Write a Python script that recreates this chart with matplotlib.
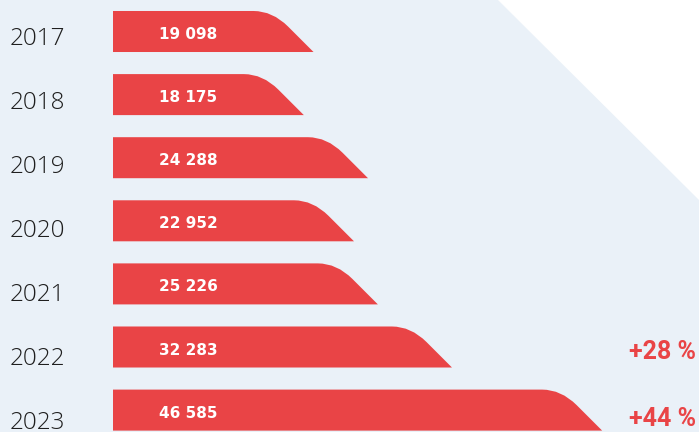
import matplotlib
matplotlib.use("Agg")
import matplotlib.pyplot as plt
from matplotlib.path import Path
from matplotlib.patches import PathPatch, Polygon

# ── data ─────────────────────────────────────────────────────────────────────
years = ["2017", "2018", "2019", "2020", "2021", "2022", "2023"]
values = [19098, 18175, 24288, 22952, 25226, 32283, 46585]
value_labels = ["19 098", "18 175", "24 288", "22 952", "25 226", "32 283", "46 585"]
growth_rows = [5, 6]
growth_labels = ["+28 %", "+44 %"]

BAR_COL = "#E94446"
BG_COL = "#EAF1F8"
YEAR_COL = "#1f1f1f"

W_PX, H_PX = 699, 432
LEFT_PX = 113          # where value 0 sits
PX_PER_UNIT = 0.0105   # horizontal scale
ROW_PX = 63.1          # distance between row centres
FIRST_ROW_PX = 31.5    # centre of first row from top
BAR_H = 0.65           # bar thickness in row units

fig = plt.figure(figsize=(W_PX / 100, H_PX / 100), dpi=100)
fig.patch.set_facecolor("white")

ax = fig.add_axes([0, 0, 1, 1])
ax.patch.set_alpha(0)
x0 = -LEFT_PX / PX_PER_UNIT
x1 = (W_PX - LEFT_PX) / PX_PER_UNIT
y_top = -FIRST_ROW_PX / ROW_PX
y_bot = (H_PX - FIRST_ROW_PX) / ROW_PX
ax.set_xlim(x0, x1)
ax.set_ylim(y_bot, y_top)
ax.axis("off")

# light blue backdrop with a 45° cut in the top-right corner
ax.add_patch(Polygon([(0, 1), (498 / W_PX, 1), (1, 1 - 200 / H_PX), (1, 0), (0, 0)],
                     closed=True, transform=ax.transAxes, facecolor=BG_COL,
                     edgecolor="none", zorder=0))

ux = (x1 - x0) / W_PX        # data units per pixel (x)
uy = (y_bot - y_top) / H_PX  # data units per pixel (y)


def bar_path(v, row):
    top = row - BAR_H / 2
    bot = row + BAR_H / 2
    h_px = BAR_H / uy
    cx = v - h_px * ux            # unrounded corner of the slanted end
    t1, t2 = 19, 22               # tangent lengths of the rounded corner (px)
    d = 0.7071
    verts = [
        (0, bot), (0, top),
        (cx - t1 * ux, top),
        (cx, top), (cx + t2 * d * ux, top + t2 * d * uy),
        (v, bot),
        (0, bot),
    ]
    codes = [Path.MOVETO, Path.LINETO, Path.LINETO,
             Path.CURVE3, Path.CURVE3, Path.LINETO, Path.CLOSEPOLY]
    return Path(verts, codes)


for i, (yr, v, lab) in enumerate(zip(years, values, value_labels)):
    ax.add_patch(PathPatch(bar_path(v, i), facecolor=BAR_COL, edgecolor="none", zorder=2))
    ax.text((188 - LEFT_PX) * ux, i + 3 * uy, lab, ha="center", va="center",
            color="white", fontsize=11, fontweight="bold", family="DejaVu Sans", zorder=3)
    ax.text(10 * ux + x0, i + (7 + 1.0 * i) * uy, yr, ha="left", va="center",
            color=YEAR_COL, fontsize=17.5, fontweight="light", family="Open Sans", zorder=3)

for row, lab in zip(growth_rows, growth_labels):
    off = 5 if row == 5 else 9
    ax.text((696 - LEFT_PX) * ux, row + off * uy, lab, ha="right", va="center",
            color=BAR_COL, fontsize=18, fontweight="bold", family="Roboto", zorder=3)

fig.savefig("out.png", dpi=100)
